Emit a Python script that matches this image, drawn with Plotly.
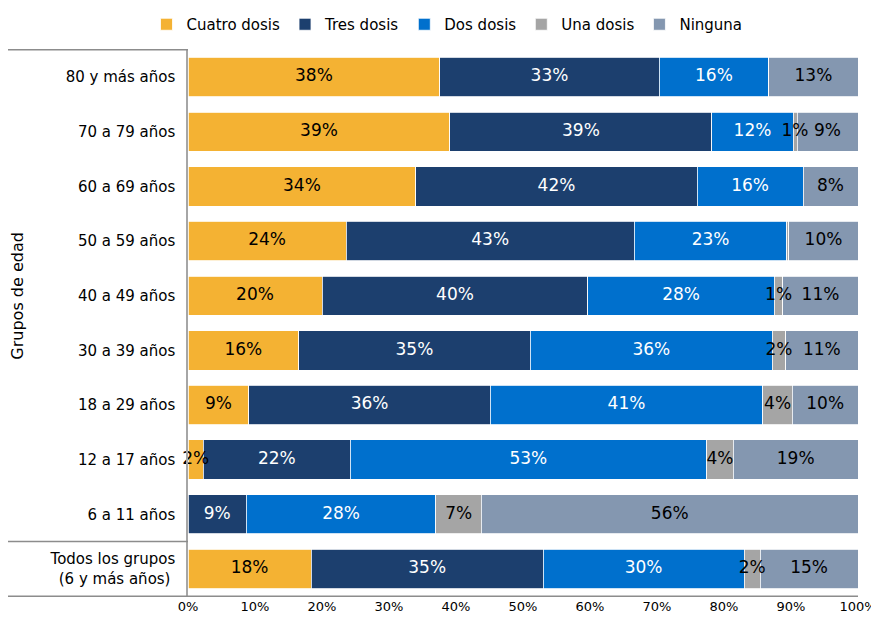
import plotly.graph_objects as go

categories = ["80 y más años", "70 a 79 años", "60 a 69 años", "50 a 59 años",
              "40 a 49 años", "30 a 39 años", "18 a 29 años", "12 a 17 años",
              "6 a 11 años", "Todos los grupos<br>(6 y más años)\u00a0"]

cuatro = [37.6, 39.1, 34.0, 23.6, 20.0, 16.5, 9.1, 2.3, 0.0, 18.4]
tres = [32.7, 39.1, 42.0, 43.0, 39.7, 34.6, 36.0, 21.9, 8.7, 34.6]
dos = [16.4, 12.1, 15.8, 22.8, 27.8, 36.1, 40.7, 53.2, 28.3, 30.0]
una = [0.0, 0.6, 0.0, 0.3, 1.3, 2.0, 4.4, 4.0, 6.8, 2.4]
ninguna = [13.3, 9.1, 8.2, 10.3, 11.2, 10.8, 9.8, 18.6, 56.2, 14.6]

x_ticks = [0, 10, 20, 30, 40, 50, 60, 70, 80, 90, 100]
x_tick_labels = ["0%", "10%", "20%", "30%", "40%", "50%", "60%", "70%", "80%", "90%", "100%"]

series = [
    ("Cuatro dosis", cuatro, "#F4B233", "black"),
    ("Tres dosis", tres, "#1C3F6E", "white"),
    ("Dos dosis", dos, "#0070CD", "white"),
    ("Una dosis", una, "#A5A5A5", "black"),
    ("Ninguna", ninguna, "#8497B0", "black"),
]

FONT = "DejaVu Sans"

# the page body has an 8px margin; the figure is sized to fit the window
W, H = 871, 609
L, R, T, B = 180, 21, 41, 20
PW = W - L - R

fig = go.Figure()
base = [0.0] * len(categories)
label_traces = []
for name, vals, color, tcolor in series:
    fig.add_trace(go.Bar(
        y=categories, x=vals, name=name, orientation="h",
        marker=dict(color=color, line=dict(color="white", width=0.8)),
        textposition="none", width=0.72, hoverinfo="x+name",
    ))
    mids = [b + v / 2 for b, v in zip(base, vals)]
    labels = [f"{round(v)}%" if v >= 0.5 else "" for v in vals]
    label_traces.append(go.Scatter(
        y=categories, x=mids, text=labels, mode="text", showlegend=False,
        textposition="middle center", cliponaxis=False, hoverinfo="skip",
        textfont=dict(color=tcolor, size=17, family=FONT),
    ))
    base = [b + v for b, v in zip(base, vals)]

for tr in label_traces:
    fig.add_trace(tr)

fig.update_layout(
    barmode="stack",
    width=W, height=H,
    margin=dict(l=L, r=R, t=T, b=B, autoexpand=False),
    paper_bgcolor="white", plot_bgcolor="white",
    font=dict(family=FONT, size=14, color="black"),
    showlegend=True,
    legend=dict(orientation="h", x=(447 - 8) / W, xanchor="center", xref="container",
                y=1, yanchor="top", yref="container",
                font=dict(size=15), itemwidth=30, traceorder="normal"),
    xaxis=dict(range=[0, 100], tickvals=x_ticks, ticktext=x_tick_labels, showgrid=False,
               zeroline=False, showline=False, ticks="", tickfont=dict(size=13),
               automargin=False),
    yaxis=dict(categoryorder="array", categoryarray=categories, autorange="reversed",
               showgrid=False, zeroline=False, showline=True, linecolor="#A6A6A6",
               linewidth=1.5, ticks="", ticklabelstandoff=8, tickfont=dict(size=15),
               automargin=False),
)

line_style = dict(color="#8C8C8C", width=1.5)
x0_paper = (0 - L) / PW
fig.add_shape(type="line", xref="paper", yref="y", x0=x0_paper, x1=0, y0=-0.5, y1=-0.5, line=line_style)
fig.add_shape(type="line", xref="paper", yref="y", x0=x0_paper, x1=0, y0=8.5, y1=8.5, line=line_style)
fig.add_shape(type="line", xref="paper", yref="y", x0=x0_paper, x1=1, y0=9.5, y1=9.5, line=line_style)

fig.add_annotation(text="Grupos de edad", xref="paper", yref="y", x=(10 - L) / PW, y=4,
                   textangle=-90, showarrow=False, font=dict(size=16, family=FONT),
                   xanchor="center", yanchor="middle")

fig.write_html("out.html")
